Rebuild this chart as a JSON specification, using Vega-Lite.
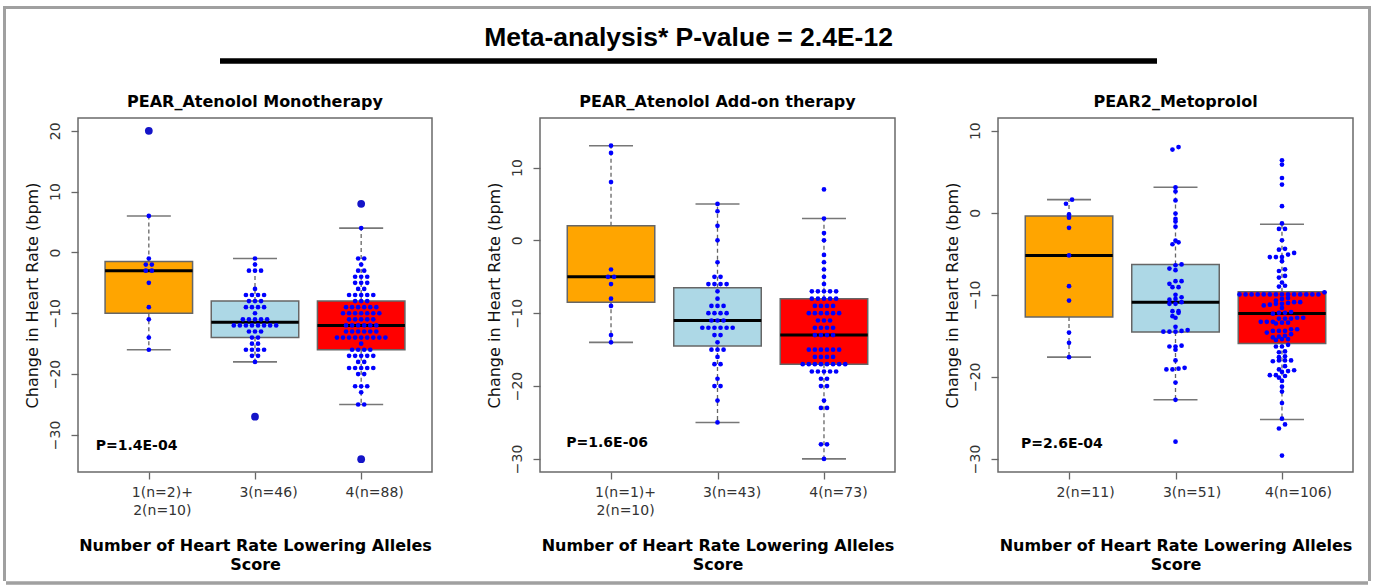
{
  "$schema": "https://vega.github.io/schema/vega-lite/v6.json",
  "padding": {"left": 3, "top": 6, "right": 0, "bottom": 0},
  "background": "white",
  "config": {
    "font": "DejaVu Sans",
    "legend": {"disable": true},
    "view": {"stroke": "#6a6a6a", "strokeWidth": 1.5},
    "title": {"font": "DejaVu Sans", "fontSize": 16, "fontWeight": "bold", "color": "#000", "anchor": "middle", "baseline": "alphabetic", "offset": 8, "frame": "group"},
    "axis": {"domain": false, "grid": false, "tickColor": "#666", "tickSize": 7, "tickWidth": 1.3, "labelFont": "DejaVu Sans", "labelFontSize": 14, "labelColor": "#333", "titleFont": "DejaVu Sans", "titleColor": "#111", "labelOverlap": false, "labelFlush": false, "labelBound": false},
    "axisY": {"labelAngle": 270, "labelAlign": "center", "labelBaseline": "bottom", "labelPadding": 9, "titleFontSize": 16, "titleFontWeight": "normal", "titlePadding": 8},
    "axisX": {"labelPadding": 6, "labelLineHeight": 18, "titleFontSize": 16, "titleFontWeight": "bold", "titleLineHeight": 19, "titleY": 65, "titleBaseline": "top", "titleColor": "#000"}
  },
  "datasets": {
    "boxes": [
      {"p": 1, "g": 1, "lo": -16, "q1": -10, "med": -3, "q3": -1.5, "hi": 6},
      {"p": 1, "g": 2, "lo": -18, "q1": -14, "med": -11.5, "q3": -8, "hi": -1},
      {"p": 1, "g": 3, "lo": -25, "q1": -16, "med": -12, "q3": -8, "hi": 4},
      {"p": 2, "g": 1, "lo": -14, "q1": -8.5, "med": -5, "q3": 2, "hi": 13},
      {"p": 2, "g": 2, "lo": -25, "q1": -14.5, "med": -11, "q3": -6.5, "hi": 5},
      {"p": 2, "g": 3, "lo": -30, "q1": -17, "med": -13, "q3": -8, "hi": 3},
      {"p": 3, "g": 1, "lo": -17.6, "q1": -12.7, "med": -5.2, "q3": -0.4, "hi": 1.6},
      {"p": 3, "g": 2, "lo": -22.8, "q1": -14.55, "med": -10.9, "q3": -6.3, "hi": 3.1},
      {"p": 3, "g": 3, "lo": -25.2, "q1": -15.93, "med": -12.28, "q3": -9.64, "hi": -1.4}
    ],
    "outl": [
      {"p": 1, "g": 1, "v": 20}, {"p": 1, "g": 2, "v": -27}, {"p": 1, "g": 3, "v": 8}, {"p": 1, "g": 3, "v": -34}
    ],
    "ptext": [
      {"p": 1, "t": "P=1.4E-04", "x": 0.5, "y": -31.9},
      {"p": 2, "t": "P=1.6E-06", "x": 0.58, "y": -27.8},
      {"p": 3, "t": "P=2.6E-04", "x": 0.55, "y": -28.2}
    ],
    "dots": [
      {"p":1,"g":1,"v":20},{"p":1,"g":1,"v":6},{"p":1,"g":1,"v":-1},{"p":1,"g":1,"v":-2},{"p":1,"g":1,"v":-2},{"p":1,"g":1,"v":-3},{"p":1,"g":1,"v":-3},{"p":1,"g":1,"v":-5},{"p":1,"g":1,"v":-9},{"p":1,"g":1,"v":-11},{"p":1,"g":1,"v":-14},{"p":1,"g":1,"v":-16},
      {"p":1,"g":2,"v":-1},{"p":1,"g":2,"v":-2},{"p":1,"g":2,"v":-3},{"p":1,"g":2,"v":-3},{"p":1,"g":2,"v":-3},{"p":1,"g":2,"v":-6},{"p":1,"g":2,"v":-7},{"p":1,"g":2,"v":-7},{"p":1,"g":2,"v":-7},{"p":1,"g":2,"v":-7},{"p":1,"g":2,"v":-8},{"p":1,"g":2,"v":-8},{"p":1,"g":2,"v":-8},{"p":1,"g":2,"v":-9},{"p":1,"g":2,"v":-9},{"p":1,"g":2,"v":-9},{"p":1,"g":2,"v":-9},{"p":1,"g":2,"v":-10},{"p":1,"g":2,"v":-11},{"p":1,"g":2,"v":-11},{"p":1,"g":2,"v":-11},{"p":1,"g":2,"v":-11},{"p":1,"g":2,"v":-11},{"p":1,"g":2,"v":-12},{"p":1,"g":2,"v":-12},{"p":1,"g":2,"v":-12},{"p":1,"g":2,"v":-12},{"p":1,"g":2,"v":-12},{"p":1,"g":2,"v":-12},{"p":1,"g":2,"v":-12},{"p":1,"g":2,"v":-12},{"p":1,"g":2,"v":-13},{"p":1,"g":2,"v":-13},{"p":1,"g":2,"v":-13},{"p":1,"g":2,"v":-14},{"p":1,"g":2,"v":-14},{"p":1,"g":2,"v":-15},{"p":1,"g":2,"v":-15},{"p":1,"g":2,"v":-16},{"p":1,"g":2,"v":-16},{"p":1,"g":2,"v":-16},{"p":1,"g":2,"v":-16},{"p":1,"g":2,"v":-17},{"p":1,"g":2,"v":-17},{"p":1,"g":2,"v":-18},{"p":1,"g":2,"v":-27},
      {"p":1,"g":3,"v":8},{"p":1,"g":3,"v":4},{"p":1,"g":3,"v":-1},{"p":1,"g":3,"v":-1},{"p":1,"g":3,"v":-2},{"p":1,"g":3,"v":-3},{"p":1,"g":3,"v":-3},{"p":1,"g":3,"v":-4},{"p":1,"g":3,"v":-4},{"p":1,"g":3,"v":-4},{"p":1,"g":3,"v":-5},{"p":1,"g":3,"v":-5},{"p":1,"g":3,"v":-5},{"p":1,"g":3,"v":-6},{"p":1,"g":3,"v":-6},{"p":1,"g":3,"v":-7},{"p":1,"g":3,"v":-7},{"p":1,"g":3,"v":-7},{"p":1,"g":3,"v":-7},{"p":1,"g":3,"v":-7},{"p":1,"g":3,"v":-8},{"p":1,"g":3,"v":-8},{"p":1,"g":3,"v":-8},{"p":1,"g":3,"v":-9},{"p":1,"g":3,"v":-9},{"p":1,"g":3,"v":-9},{"p":1,"g":3,"v":-9},{"p":1,"g":3,"v":-9},{"p":1,"g":3,"v":-9},{"p":1,"g":3,"v":-10},{"p":1,"g":3,"v":-10},{"p":1,"g":3,"v":-10},{"p":1,"g":3,"v":-10},{"p":1,"g":3,"v":-10},{"p":1,"g":3,"v":-10},{"p":1,"g":3,"v":-10},{"p":1,"g":3,"v":-11},{"p":1,"g":3,"v":-11},{"p":1,"g":3,"v":-11},{"p":1,"g":3,"v":-11},{"p":1,"g":3,"v":-11},{"p":1,"g":3,"v":-12},{"p":1,"g":3,"v":-12},{"p":1,"g":3,"v":-12},{"p":1,"g":3,"v":-12},{"p":1,"g":3,"v":-12},{"p":1,"g":3,"v":-12},{"p":1,"g":3,"v":-13},{"p":1,"g":3,"v":-13},{"p":1,"g":3,"v":-13},{"p":1,"g":3,"v":-13},{"p":1,"g":3,"v":-13},{"p":1,"g":3,"v":-13},{"p":1,"g":3,"v":-14},{"p":1,"g":3,"v":-14},{"p":1,"g":3,"v":-14},{"p":1,"g":3,"v":-14},{"p":1,"g":3,"v":-14},{"p":1,"g":3,"v":-14},{"p":1,"g":3,"v":-14},{"p":1,"g":3,"v":-14},{"p":1,"g":3,"v":-14},{"p":1,"g":3,"v":-15},{"p":1,"g":3,"v":-16},{"p":1,"g":3,"v":-16},{"p":1,"g":3,"v":-16},{"p":1,"g":3,"v":-16},{"p":1,"g":3,"v":-17},{"p":1,"g":3,"v":-17},{"p":1,"g":3,"v":-17},{"p":1,"g":3,"v":-17},{"p":1,"g":3,"v":-17},{"p":1,"g":3,"v":-18},{"p":1,"g":3,"v":-18},{"p":1,"g":3,"v":-19},{"p":1,"g":3,"v":-19},{"p":1,"g":3,"v":-19},{"p":1,"g":3,"v":-19},{"p":1,"g":3,"v":-19},{"p":1,"g":3,"v":-20},{"p":1,"g":3,"v":-20},{"p":1,"g":3,"v":-22},{"p":1,"g":3,"v":-22},{"p":1,"g":3,"v":-22},{"p":1,"g":3,"v":-23},{"p":1,"g":3,"v":-25},{"p":1,"g":3,"v":-25},{"p":1,"g":3,"v":-34},
      {"p":2,"g":1,"v":13},{"p":2,"g":1,"v":12},{"p":2,"g":1,"v":8},{"p":2,"g":1,"v":-4},{"p":2,"g":1,"v":-5},{"p":2,"g":1,"v":-5},{"p":2,"g":1,"v":-6},{"p":2,"g":1,"v":-8},{"p":2,"g":1,"v":-9},{"p":2,"g":1,"v":-13},{"p":2,"g":1,"v":-14},
      {"p":2,"g":2,"v":5},{"p":2,"g":2,"v":4},{"p":2,"g":2,"v":2},{"p":2,"g":2,"v":0},{"p":2,"g":2,"v":-3},{"p":2,"g":2,"v":-5},{"p":2,"g":2,"v":-5},{"p":2,"g":2,"v":-6},{"p":2,"g":2,"v":-6},{"p":2,"g":2,"v":-6},{"p":2,"g":2,"v":-6},{"p":2,"g":2,"v":-7},{"p":2,"g":2,"v":-8},{"p":2,"g":2,"v":-9},{"p":2,"g":2,"v":-9},{"p":2,"g":2,"v":-9},{"p":2,"g":2,"v":-10},{"p":2,"g":2,"v":-10},{"p":2,"g":2,"v":-10},{"p":2,"g":2,"v":-10},{"p":2,"g":2,"v":-11},{"p":2,"g":2,"v":-11},{"p":2,"g":2,"v":-11},{"p":2,"g":2,"v":-12},{"p":2,"g":2,"v":-12},{"p":2,"g":2,"v":-12},{"p":2,"g":2,"v":-12},{"p":2,"g":2,"v":-12},{"p":2,"g":2,"v":-12},{"p":2,"g":2,"v":-13},{"p":2,"g":2,"v":-13},{"p":2,"g":2,"v":-14},{"p":2,"g":2,"v":-15},{"p":2,"g":2,"v":-15},{"p":2,"g":2,"v":-15},{"p":2,"g":2,"v":-16},{"p":2,"g":2,"v":-17},{"p":2,"g":2,"v":-17},{"p":2,"g":2,"v":-19},{"p":2,"g":2,"v":-20},{"p":2,"g":2,"v":-20},{"p":2,"g":2,"v":-22},{"p":2,"g":2,"v":-25},
      {"p":2,"g":3,"v":7},{"p":2,"g":3,"v":3},{"p":2,"g":3,"v":1},{"p":2,"g":3,"v":0},{"p":2,"g":3,"v":-2},{"p":2,"g":3,"v":-3},{"p":2,"g":3,"v":-4},{"p":2,"g":3,"v":-5},{"p":2,"g":3,"v":-6},{"p":2,"g":3,"v":-7},{"p":2,"g":3,"v":-7},{"p":2,"g":3,"v":-7},{"p":2,"g":3,"v":-7},{"p":2,"g":3,"v":-7},{"p":2,"g":3,"v":-8},{"p":2,"g":3,"v":-8},{"p":2,"g":3,"v":-8},{"p":2,"g":3,"v":-8},{"p":2,"g":3,"v":-8},{"p":2,"g":3,"v":-9},{"p":2,"g":3,"v":-9},{"p":2,"g":3,"v":-9},{"p":2,"g":3,"v":-9},{"p":2,"g":3,"v":-10},{"p":2,"g":3,"v":-10},{"p":2,"g":3,"v":-10},{"p":2,"g":3,"v":-10},{"p":2,"g":3,"v":-10},{"p":2,"g":3,"v":-10},{"p":2,"g":3,"v":-11},{"p":2,"g":3,"v":-11},{"p":2,"g":3,"v":-11},{"p":2,"g":3,"v":-12},{"p":2,"g":3,"v":-12},{"p":2,"g":3,"v":-12},{"p":2,"g":3,"v":-12},{"p":2,"g":3,"v":-13},{"p":2,"g":3,"v":-13},{"p":2,"g":3,"v":-13},{"p":2,"g":3,"v":-13},{"p":2,"g":3,"v":-15},{"p":2,"g":3,"v":-15},{"p":2,"g":3,"v":-15},{"p":2,"g":3,"v":-15},{"p":2,"g":3,"v":-15},{"p":2,"g":3,"v":-15},{"p":2,"g":3,"v":-16},{"p":2,"g":3,"v":-16},{"p":2,"g":3,"v":-16},{"p":2,"g":3,"v":-16},{"p":2,"g":3,"v":-17},{"p":2,"g":3,"v":-17},{"p":2,"g":3,"v":-17},{"p":2,"g":3,"v":-17},{"p":2,"g":3,"v":-17},{"p":2,"g":3,"v":-17},{"p":2,"g":3,"v":-17},{"p":2,"g":3,"v":-17},{"p":2,"g":3,"v":-18},{"p":2,"g":3,"v":-18},{"p":2,"g":3,"v":-18},{"p":2,"g":3,"v":-18},{"p":2,"g":3,"v":-18},{"p":2,"g":3,"v":-19},{"p":2,"g":3,"v":-19},{"p":2,"g":3,"v":-20},{"p":2,"g":3,"v":-20},{"p":2,"g":3,"v":-22},{"p":2,"g":3,"v":-23},{"p":2,"g":3,"v":-23},{"p":2,"g":3,"v":-28},{"p":2,"g":3,"v":-28},{"p":2,"g":3,"v":-30},
      {"p":3,"g":1,"v":1.6},{"p":3,"g":1,"v":1.1},{"p":3,"g":1,"v":-0.2},{"p":3,"g":1,"v":-0.6},{"p":3,"g":1,"v":-1.84},{"p":3,"g":1,"v":-5.2},{"p":3,"g":1,"v":-8.95},{"p":3,"g":1,"v":-10.7},{"p":3,"g":1,"v":-14.6},{"p":3,"g":1,"v":-15.85},{"p":3,"g":1,"v":-17.6},
      {"p":3,"g":2,"v":8.0},{"p":3,"g":2,"v":7.7},{"p":3,"g":2,"v":3.1},{"p":3,"g":2,"v":2.6},{"p":3,"g":2,"v":1.5},{"p":3,"g":2,"v":-0.1},{"p":3,"g":2,"v":-0.75},{"p":3,"g":2,"v":-1.07},{"p":3,"g":2,"v":-1.7},{"p":3,"g":2,"v":-3.4},{"p":3,"g":2,"v":-3.6},{"p":3,"g":2,"v":-3.84},{"p":3,"g":2,"v":-6.3},{"p":3,"g":2,"v":-6.4},{"p":3,"g":2,"v":-7.0},{"p":3,"g":2,"v":-6.8},{"p":3,"g":2,"v":-8.34},{"p":3,"g":2,"v":-8.66},{"p":3,"g":2,"v":-8.34},{"p":3,"g":2,"v":-9.07},{"p":3,"g":2,"v":-9.07},{"p":3,"g":2,"v":-10.0},{"p":3,"g":2,"v":-10.3},{"p":3,"g":2,"v":-10.5},{"p":3,"g":2,"v":-10.6},{"p":3,"g":2,"v":-10.9},{"p":3,"g":2,"v":-11.1},{"p":3,"g":2,"v":-11.1},{"p":3,"g":2,"v":-12.0},{"p":3,"g":2,"v":-12.2},{"p":3,"g":2,"v":-12.6},{"p":3,"g":2,"v":-12.8},{"p":3,"g":2,"v":-12.0},{"p":3,"g":2,"v":-13.9},{"p":3,"g":2,"v":-14.4},{"p":3,"g":2,"v":-14.5},{"p":3,"g":2,"v":-14.5},{"p":3,"g":2,"v":-14.5},{"p":3,"g":2,"v":-14.3},{"p":3,"g":2,"v":-16.2},{"p":3,"g":2,"v":-16.3},{"p":3,"g":2,"v":-16.7},{"p":3,"g":2,"v":-16.3},{"p":3,"g":2,"v":-18.0},{"p":3,"g":2,"v":-19.0},{"p":3,"g":2,"v":-19.1},{"p":3,"g":2,"v":-19.1},{"p":3,"g":2,"v":-18.9},{"p":3,"g":2,"v":-20.7},{"p":3,"g":2,"v":-22.8},{"p":3,"g":2,"v":-27.9},
      {"p":3,"g":3,"v":6.4},{"p":3,"g":3,"v":5.87},{"p":3,"g":3,"v":4.24},{"p":3,"g":3,"v":3.43},{"p":3,"g":3,"v":0.8},{"p":3,"g":3,"v":-1.3},{"p":3,"g":3,"v":-1.97},{"p":3,"g":3,"v":-1.97},{"p":3,"g":3,"v":-3.35},{"p":3,"g":3,"v":-4.4},{"p":3,"g":3,"v":-4.5},{"p":3,"g":3,"v":-4.9},{"p":3,"g":3,"v":-5.1},{"p":3,"g":3,"v":-5.4},{"p":3,"g":3,"v":-5.4},{"p":3,"g":3,"v":-5.4},{"p":3,"g":3,"v":-5.9},{"p":3,"g":3,"v":-6.9},{"p":3,"g":3,"v":-7.1},{"p":3,"g":3,"v":-7.7},{"p":3,"g":3,"v":-7.9},{"p":3,"g":3,"v":-8.5},{"p":3,"g":3,"v":-8.9},{"p":3,"g":3,"v":-9.0},{"p":3,"g":3,"v":-9.7},
      {"p":3,"g":3,"v":-9.96},{"p":3,"g":3,"v":-9.96},{"p":3,"g":3,"v":-9.96},{"p":3,"g":3,"v":-9.96},{"p":3,"g":3,"v":-9.96},{"p":3,"g":3,"v":-9.96},{"p":3,"g":3,"v":-9.96},{"p":3,"g":3,"v":-9.96},{"p":3,"g":3,"v":-9.96},{"p":3,"g":3,"v":-9.96},{"p":3,"g":3,"v":-9.96},{"p":3,"g":3,"v":-9.96},{"p":3,"g":3,"v":-9.96},{"p":3,"g":3,"v":-9.96},
      {"p":3,"g":3,"v":-10.4},{"p":3,"g":3,"v":-10.5},{"p":3,"g":3,"v":-10.7},{"p":3,"g":3,"v":-11.0},{"p":3,"g":3,"v":-11.1},{"p":3,"g":3,"v":-10.9},{"p":3,"g":3,"v":-11.2},{"p":3,"g":3,"v":-11.3},{"p":3,"g":3,"v":-11.1},{"p":3,"g":3,"v":-10.9},{"p":3,"g":3,"v":-11.6},{"p":3,"g":3,"v":-12.1},{"p":3,"g":3,"v":-12.2},{"p":3,"g":3,"v":-12.2},{"p":3,"g":3,"v":-12.3},{"p":3,"g":3,"v":-12.8},{"p":3,"g":3,"v":-12.8},{"p":3,"g":3,"v":-12.9},{"p":3,"g":3,"v":-12.9},{"p":3,"g":3,"v":-13.3},{"p":3,"g":3,"v":-13.4},{"p":3,"g":3,"v":-13.5},{"p":3,"g":3,"v":-13.4},{"p":3,"g":3,"v":-13.3},{"p":3,"g":3,"v":-13.3},{"p":3,"g":3,"v":-12.9},{"p":3,"g":3,"v":-14.2},{"p":3,"g":3,"v":-14.6},{"p":3,"g":3,"v":-14.4},{"p":3,"g":3,"v":-14.4},{"p":3,"g":3,"v":-14.4},{"p":3,"g":3,"v":-14.2},{"p":3,"g":3,"v":-14.8},{"p":3,"g":3,"v":-15.0},{"p":3,"g":3,"v":-15.1},{"p":3,"g":3,"v":-15.2},{"p":3,"g":3,"v":-15.4},{"p":3,"g":3,"v":-15.4},{"p":3,"g":3,"v":-15.5},{"p":3,"g":3,"v":-16.1},{"p":3,"g":3,"v":-16.3},{"p":3,"g":3,"v":-16.3},{"p":3,"g":3,"v":-16.9},{"p":3,"g":3,"v":-17.0},{"p":3,"g":3,"v":-17.5},{"p":3,"g":3,"v":-17.6},{"p":3,"g":3,"v":-18.0},{"p":3,"g":3,"v":-18.0},{"p":3,"g":3,"v":-18.1},{"p":3,"g":3,"v":-18.0},{"p":3,"g":3,"v":-18.7},{"p":3,"g":3,"v":-19.2},{"p":3,"g":3,"v":-19.3},{"p":3,"g":3,"v":-19.1},{"p":3,"g":3,"v":-19.4},{"p":3,"g":3,"v":-19.8},{"p":3,"g":3,"v":-19.9},{"p":3,"g":3,"v":-20.1},{"p":3,"g":3,"v":-19.8},{"p":3,"g":3,"v":-20.5},{"p":3,"g":3,"v":-21.2},{"p":3,"g":3,"v":-21.8},{"p":3,"g":3,"v":-23.2},{"p":3,"g":3,"v":-25.1},{"p":3,"g":3,"v":-25.8},{"p":3,"g":3,"v":-26.3},{"p":3,"g":3,"v":-29.6}
    ]
  },
  "spacing": 0,
  "hconcat": [
    {"width": 3, "height": 575, "view": {"stroke": null, "fill": "#a0a0a0"}, "data": {"values": [{}]}, "mark": {"type": "rect", "color": "#a0a0a0"}, "encoding": {}},
    {
      "spacing": 15.5,
      "vconcat": [
        {"width": 1362, "height": 3, "view": {"stroke": null, "fill": "#a0a0a0"}, "data": {"values": [{}]}, "mark": {"type": "rect", "color": "#a0a0a0"}, "encoding": {}},
        {
          "spacing": 8,
          "vconcat": [
            {
              "spacing": 29.5,
              "vconcat": [
                {
                  "spacing": 0,
                  "hconcat": [
                    {"width": 214, "height": 5, "view": {"stroke": null}, "data": {"values": [{}]}, "mark": {"type": "rect", "color": "#ffffff"}, "encoding": {}},
                    {
                      "width": 937, "height": 5,
                      "view": {"stroke": null, "fill": "#000"},
                      "title": {"text": "Meta-analysis* P-value = 2.4E-12", "font": "Liberation Sans", "fontSize": 26.5, "fontWeight": "bold", "baseline": "alphabetic", "offset": -14},
                      "data": {"values": [{}]},
                      "mark": {"type": "rect", "color": "#000"},
                      "encoding": {}
                    }
                  ]
                },
                {
                  "spacing": 16,
                  "hconcat": [
                    {"width": 1, "height": 1, "view": {"stroke": null}, "data": {"values": [{}]}, "mark": {"type": "rect", "color": "#ffffff"}, "encoding": {}},
                    {
                      "spacing": 47,
                      "hconcat": [
                        {
                          "spacing": 52,
                          "hconcat": [
                            {
                              "width": 354, "height": 354,
                              "title": {"text": "PEAR_Atenolol Monotherapy"},
                              "layer": [
                                {"data": {"name": "boxes"}, "transform": [{"filter": "datum.p == 1"}],
                                 "mark": {"type": "rule", "color": "#666", "strokeWidth": 1.3, "strokeDash": [4, 3]},
                                 "encoding": {
                                   "x": {"field": "g", "type": "quantitative", "scale": {"domain": [0.38, 3.62], "nice": false, "zero": false}, "title": ["Number of Heart Rate Lowering Alleles", "Score"],
                                         "axis": {"values": [1, 2, 3], "labelOffset": 13, "labelExpr": "datum.value == 1 ? ['1(n=2)+', '2(n=10)'] : datum.value == 2 ? '3(n=46)' : '4(n=88)'"}},
                                   "y": {"field": "q3", "type": "quantitative", "scale": {"domain": [-36.1, 22.1], "nice": false, "zero": false}, "title": "Change in Heart Rate (bpm)",
                                         "axis": {"values": [-30, -20, -10, 0, 10, 20]}},
                                   "y2": {"field": "hi"}
                                 }},
                                {"data": {"name": "boxes"}, "transform": [{"filter": "datum.p == 1"}],
                                 "mark": {"type": "rule", "color": "#666", "strokeWidth": 1.3, "strokeDash": [4, 3]},
                                 "encoding": {"x": {"field": "g", "type": "quantitative", "title": ["Number of Heart Rate Lowering Alleles", "Score"]}, "y": {"field": "q1", "type": "quantitative", "title": "Change in Heart Rate (bpm)"}, "y2": {"field": "lo"}}},
                                {"data": {"name": "boxes"}, "transform": [{"filter": "datum.p == 1"}],
                                 "mark": {"type": "tick", "orient": "horizontal", "size": 44, "thickness": 1.6, "color": "#777", "opacity": 1},
                                 "encoding": {"x": {"field": "g", "type": "quantitative", "title": ["Number of Heart Rate Lowering Alleles", "Score"]}, "y": {"field": "hi", "type": "quantitative", "title": "Change in Heart Rate (bpm)"}}},
                                {"data": {"name": "boxes"}, "transform": [{"filter": "datum.p == 1"}],
                                 "mark": {"type": "tick", "orient": "horizontal", "size": 44, "thickness": 1.6, "color": "#777", "opacity": 1},
                                 "encoding": {"x": {"field": "g", "type": "quantitative", "title": ["Number of Heart Rate Lowering Alleles", "Score"]}, "y": {"field": "lo", "type": "quantitative", "title": "Change in Heart Rate (bpm)"}}},
                                {"data": {"name": "boxes"}, "transform": [{"filter": "datum.p == 1"}],
                                 "mark": {"type": "bar", "width": 87.5, "stroke": "#666", "strokeWidth": 1.5, "opacity": 1},
                                 "encoding": {"x": {"field": "g", "type": "quantitative", "title": ["Number of Heart Rate Lowering Alleles", "Score"]}, "y": {"field": "q1", "type": "quantitative", "title": "Change in Heart Rate (bpm)"}, "y2": {"field": "q3"},
                                              "color": {"field": "g", "type": "nominal", "scale": {"domain": [1, 2, 3], "range": ["#FFA500", "#ADD8E6", "#FF0000"]}, "legend": null}}},
                                {"data": {"name": "boxes"}, "transform": [{"filter": "datum.p == 1"}],
                                 "mark": {"type": "tick", "orient": "horizontal", "size": 87.5, "thickness": 3, "color": "#000", "opacity": 1},
                                 "encoding": {"x": {"field": "g", "type": "quantitative", "title": ["Number of Heart Rate Lowering Alleles", "Score"]}, "y": {"field": "med", "type": "quantitative", "title": "Change in Heart Rate (bpm)"}}},
                                {"data": {"name": "dots"},
                                 "transform": [
                                   {"filter": "datum.p == 1"},
                                   {"calculate": "round(datum.v)", "as": "row"},
                                   {"window": [{"op": "row_number", "as": "r"}], "groupby": ["g", "row"], "sort": [{"field": "v"}]},
                                   {"joinaggregate": [{"op": "count", "as": "n"}], "groupby": ["g", "row"]},
                                   {"calculate": "datum.g + (datum.r - (datum.n + 1) / 2) * 0.057", "as": "xp"}
                                 ],
                                 "mark": {"type": "circle", "color": "#0000ff", "size": 22, "opacity": 1},
                                 "encoding": {"x": {"field": "xp", "type": "quantitative", "title": ["Number of Heart Rate Lowering Alleles", "Score"]}, "y": {"field": "v", "type": "quantitative", "title": "Change in Heart Rate (bpm)"}}},
                                {"data": {"name": "outl"}, "transform": [{"filter": "datum.p == 1"}],
                                 "mark": {"type": "circle", "color": "#1414c8", "size": 60, "opacity": 1},
                                 "encoding": {"x": {"field": "g", "type": "quantitative", "title": ["Number of Heart Rate Lowering Alleles", "Score"]}, "y": {"field": "v", "type": "quantitative", "title": "Change in Heart Rate (bpm)"}}},
                                {"data": {"name": "ptext"}, "transform": [{"filter": "datum.p == 1"}],
                                 "mark": {"type": "text", "align": "left", "baseline": "middle", "font": "DejaVu Sans", "fontSize": 14, "fontWeight": "bold", "color": "#000"},
                                 "encoding": {"x": {"field": "x", "type": "quantitative", "title": ["Number of Heart Rate Lowering Alleles", "Score"]}, "y": {"field": "y", "type": "quantitative", "title": "Change in Heart Rate (bpm)"}, "text": {"field": "t"}}}
                              ]
                            },
                            {
                              "width": 355, "height": 354,
                              "title": {"text": "PEAR_Atenolol Add-on therapy"},
                              "layer": [
                                {"data": {"name": "boxes"}, "transform": [{"filter": "datum.p == 2"}],
                                 "mark": {"type": "rule", "color": "#666", "strokeWidth": 1.3, "strokeDash": [4, 3]},
                                 "encoding": {
                                   "x": {"field": "g", "type": "quantitative", "scale": {"domain": [0.38, 3.62], "nice": false, "zero": false}, "title": ["Number of Heart Rate Lowering Alleles", "Score"],
                                         "axis": {"values": [1, 2, 3], "labelOffset": 14, "labelExpr": "datum.value == 1 ? ['1(n=1)+', '2(n=10)'] : datum.value == 2 ? '3(n=43)' : '4(n=73)'"}},
                                   "y": {"field": "q3", "type": "quantitative", "scale": {"domain": [-31.8, 16.8], "nice": false, "zero": false}, "title": "Change in Heart Rate (bpm)",
                                         "axis": {"values": [-30, -20, -10, 0, 10]}},
                                   "y2": {"field": "hi"}
                                 }},
                                {"data": {"name": "boxes"}, "transform": [{"filter": "datum.p == 2"}],
                                 "mark": {"type": "rule", "color": "#666", "strokeWidth": 1.3, "strokeDash": [4, 3]},
                                 "encoding": {"x": {"field": "g", "type": "quantitative", "title": ["Number of Heart Rate Lowering Alleles", "Score"]}, "y": {"field": "q1", "type": "quantitative", "title": "Change in Heart Rate (bpm)"}, "y2": {"field": "lo"}}},
                                {"data": {"name": "boxes"}, "transform": [{"filter": "datum.p == 2"}],
                                 "mark": {"type": "tick", "orient": "horizontal", "size": 44, "thickness": 1.6, "color": "#777", "opacity": 1},
                                 "encoding": {"x": {"field": "g", "type": "quantitative", "title": ["Number of Heart Rate Lowering Alleles", "Score"]}, "y": {"field": "hi", "type": "quantitative", "title": "Change in Heart Rate (bpm)"}}},
                                {"data": {"name": "boxes"}, "transform": [{"filter": "datum.p == 2"}],
                                 "mark": {"type": "tick", "orient": "horizontal", "size": 44, "thickness": 1.6, "color": "#777", "opacity": 1},
                                 "encoding": {"x": {"field": "g", "type": "quantitative", "title": ["Number of Heart Rate Lowering Alleles", "Score"]}, "y": {"field": "lo", "type": "quantitative", "title": "Change in Heart Rate (bpm)"}}},
                                {"data": {"name": "boxes"}, "transform": [{"filter": "datum.p == 2"}],
                                 "mark": {"type": "bar", "width": 87.5, "stroke": "#666", "strokeWidth": 1.5, "opacity": 1},
                                 "encoding": {"x": {"field": "g", "type": "quantitative", "title": ["Number of Heart Rate Lowering Alleles", "Score"]}, "y": {"field": "q1", "type": "quantitative", "title": "Change in Heart Rate (bpm)"}, "y2": {"field": "q3"},
                                              "color": {"field": "g", "type": "nominal", "scale": {"domain": [1, 2, 3], "range": ["#FFA500", "#ADD8E6", "#FF0000"]}, "legend": null}}},
                                {"data": {"name": "boxes"}, "transform": [{"filter": "datum.p == 2"}],
                                 "mark": {"type": "tick", "orient": "horizontal", "size": 87.5, "thickness": 3, "color": "#000", "opacity": 1},
                                 "encoding": {"x": {"field": "g", "type": "quantitative", "title": ["Number of Heart Rate Lowering Alleles", "Score"]}, "y": {"field": "med", "type": "quantitative", "title": "Change in Heart Rate (bpm)"}}},
                                {"data": {"name": "dots"},
                                 "transform": [
                                   {"filter": "datum.p == 2"},
                                   {"calculate": "round(datum.v)", "as": "row"},
                                   {"window": [{"op": "row_number", "as": "r"}], "groupby": ["g", "row"], "sort": [{"field": "v"}]},
                                   {"joinaggregate": [{"op": "count", "as": "n"}], "groupby": ["g", "row"]},
                                   {"calculate": "datum.g + (datum.r - (datum.n + 1) / 2) * 0.057", "as": "xp"}
                                 ],
                                 "mark": {"type": "circle", "color": "#0000ff", "size": 22, "opacity": 1},
                                 "encoding": {"x": {"field": "xp", "type": "quantitative", "title": ["Number of Heart Rate Lowering Alleles", "Score"]}, "y": {"field": "v", "type": "quantitative", "title": "Change in Heart Rate (bpm)"}}},
                                {"data": {"name": "ptext"}, "transform": [{"filter": "datum.p == 2"}],
                                 "mark": {"type": "text", "align": "left", "baseline": "middle", "font": "DejaVu Sans", "fontSize": 14, "fontWeight": "bold", "color": "#000"},
                                 "encoding": {"x": {"field": "x", "type": "quantitative", "title": ["Number of Heart Rate Lowering Alleles", "Score"]}, "y": {"field": "y", "type": "quantitative", "title": "Change in Heart Rate (bpm)"}, "text": {"field": "t"}}}
                              ]
                            }
                          ]
                        },
                        {
                          "width": 355, "height": 354,
                          "title": {"text": "PEAR2_Metoprolol"},
                          "layer": [
                            {"data": {"name": "boxes"}, "transform": [{"filter": "datum.p == 3"}],
                             "mark": {"type": "rule", "color": "#666", "strokeWidth": 1.3, "strokeDash": [4, 3]},
                             "encoding": {
                               "x": {"field": "g", "type": "quantitative", "scale": {"domain": [0.38, 3.62], "nice": false, "zero": false}, "title": ["Number of Heart Rate Lowering Alleles", "Score"],
                                     "axis": {"values": [1, 2, 3], "labelOffset": 16, "labelExpr": "datum.value == 1 ? '2(n=11)' : datum.value == 2 ? '3(n=51)' : '4(n=106)'"}},
                               "y": {"field": "q3", "type": "quantitative", "scale": {"domain": [-31.6, 11.55], "nice": false, "zero": false}, "title": "Change in Heart Rate (bpm)",
                                     "axis": {"values": [-30, -20, -10, 0, 10]}},
                               "y2": {"field": "hi"}
                             }},
                            {"data": {"name": "boxes"}, "transform": [{"filter": "datum.p == 3"}],
                             "mark": {"type": "rule", "color": "#666", "strokeWidth": 1.3, "strokeDash": [4, 3]},
                             "encoding": {"x": {"field": "g", "type": "quantitative", "title": ["Number of Heart Rate Lowering Alleles", "Score"]}, "y": {"field": "q1", "type": "quantitative", "title": "Change in Heart Rate (bpm)"}, "y2": {"field": "lo"}}},
                            {"data": {"name": "boxes"}, "transform": [{"filter": "datum.p == 3"}],
                             "mark": {"type": "tick", "orient": "horizontal", "size": 44, "thickness": 1.6, "color": "#777", "opacity": 1},
                             "encoding": {"x": {"field": "g", "type": "quantitative", "title": ["Number of Heart Rate Lowering Alleles", "Score"]}, "y": {"field": "hi", "type": "quantitative", "title": "Change in Heart Rate (bpm)"}}},
                            {"data": {"name": "boxes"}, "transform": [{"filter": "datum.p == 3"}],
                             "mark": {"type": "tick", "orient": "horizontal", "size": 44, "thickness": 1.6, "color": "#777", "opacity": 1},
                             "encoding": {"x": {"field": "g", "type": "quantitative", "title": ["Number of Heart Rate Lowering Alleles", "Score"]}, "y": {"field": "lo", "type": "quantitative", "title": "Change in Heart Rate (bpm)"}}},
                            {"data": {"name": "boxes"}, "transform": [{"filter": "datum.p == 3"}],
                             "mark": {"type": "bar", "width": 87.5, "stroke": "#666", "strokeWidth": 1.5, "opacity": 1},
                             "encoding": {"x": {"field": "g", "type": "quantitative", "title": ["Number of Heart Rate Lowering Alleles", "Score"]}, "y": {"field": "q1", "type": "quantitative", "title": "Change in Heart Rate (bpm)"}, "y2": {"field": "q3"},
                                          "color": {"field": "g", "type": "nominal", "scale": {"domain": [1, 2, 3], "range": ["#FFA500", "#ADD8E6", "#FF0000"]}, "legend": null}}},
                            {"data": {"name": "boxes"}, "transform": [{"filter": "datum.p == 3"}],
                             "mark": {"type": "tick", "orient": "horizontal", "size": 87.5, "thickness": 3, "color": "#000", "opacity": 1},
                             "encoding": {"x": {"field": "g", "type": "quantitative", "title": ["Number of Heart Rate Lowering Alleles", "Score"]}, "y": {"field": "med", "type": "quantitative", "title": "Change in Heart Rate (bpm)"}}},
                            {"data": {"name": "dots"},
                             "transform": [
                               {"filter": "datum.p == 3"},
                               {"calculate": "round(datum.v / 0.65)", "as": "row"},
                               {"window": [{"op": "row_number", "as": "r"}], "groupby": ["g", "row"], "sort": [{"field": "v"}]},
                               {"joinaggregate": [{"op": "count", "as": "n"}], "groupby": ["g", "row"]},
                               {"calculate": "datum.g + (datum.r - (datum.n + 1) / 2) * 0.057", "as": "xp"}
                             ],
                             "mark": {"type": "circle", "color": "#0000ff", "size": 22, "opacity": 1},
                             "encoding": {"x": {"field": "xp", "type": "quantitative", "title": ["Number of Heart Rate Lowering Alleles", "Score"]}, "y": {"field": "v", "type": "quantitative", "title": "Change in Heart Rate (bpm)"}}},
                            {"data": {"name": "ptext"}, "transform": [{"filter": "datum.p == 3"}],
                             "mark": {"type": "text", "align": "left", "baseline": "middle", "font": "DejaVu Sans", "fontSize": 14, "fontWeight": "bold", "color": "#000"},
                             "encoding": {"x": {"field": "x", "type": "quantitative", "title": ["Number of Heart Rate Lowering Alleles", "Score"]}, "y": {"field": "y", "type": "quantitative", "title": "Change in Heart Rate (bpm)"}, "text": {"field": "t"}}}
                          ]
                        }
                      ]
                    }
                  ]
                }
              ]
            },
            {"width": 1362, "height": 3, "view": {"stroke": null, "fill": "#a0a0a0"}, "data": {"values": [{}]}, "mark": {"type": "rect", "color": "#a0a0a0"}, "encoding": {}}
          ]
        }
      ]
    },
    {"width": 3, "height": 575, "view": {"stroke": null, "fill": "#a0a0a0"}, "data": {"values": [{}]}, "mark": {"type": "rect", "color": "#a0a0a0"}, "encoding": {}}
  ]
}
